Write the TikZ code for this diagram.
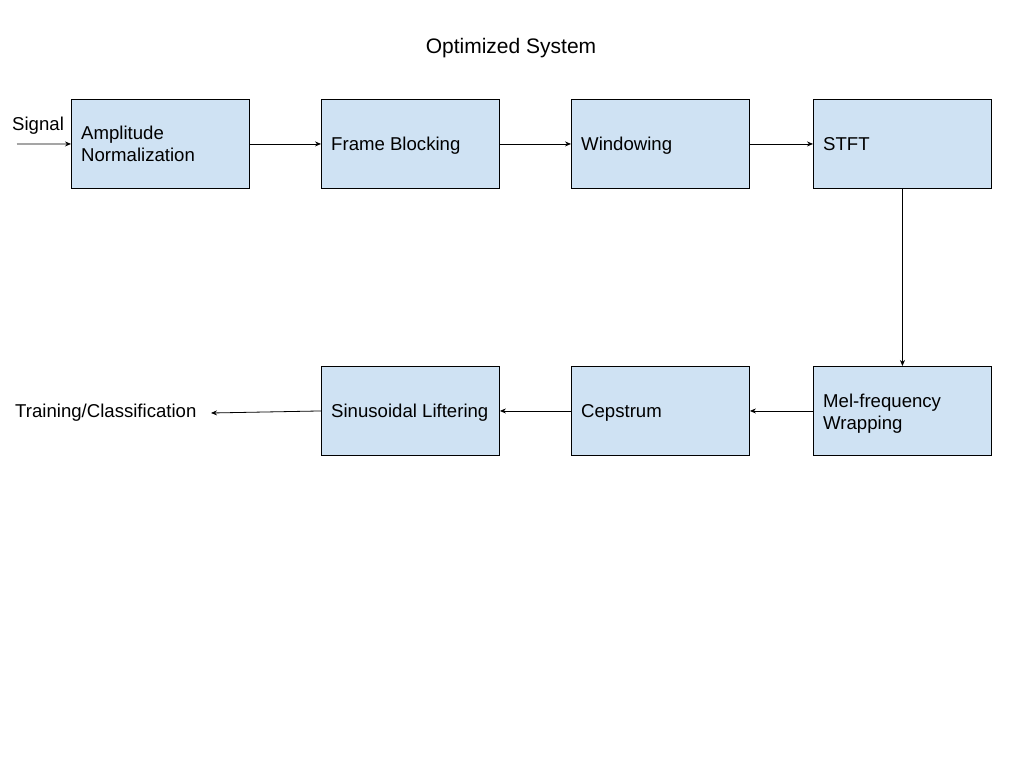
\documentclass[tikz,border=0pt]{standalone}
\usepackage{fontspec}
\setmainfont{Liberation Sans}
\usetikzlibrary{arrows.meta}
\definecolor{boxfill}{HTML}{CFE2F3}
\tikzset{
  block/.style={draw=black, fill=boxfill, line width=0.9pt, minimum width=178pt, minimum height=89pt,
    anchor=north west, inner sep=0pt},
  lbl/.style={anchor=base west, align=left, font=\fontsize{18.6}{22}\selectfont, inner sep=0pt},
  lbltwo/.style={anchor=west, align=left, font=\fontsize{18.6}{22}\selectfont, inner sep=0pt},
  conn/.style={line width=0.8pt, -{Stealth[length=6pt,width=5pt]}},
}
\begin{document}
\begin{tikzpicture}[x=1pt,y=-1pt]
\useasboundingbox (0,0) rectangle (1024,768);
\fill[white] (0,0) rectangle (1024,768);
\node[font=\fontsize{21}{25}\selectfont] (title) at (511,48) {Optimized System};
\node[block] (amp) at (71,99) {};
\node[block] (fb) at (321,99) {};
\node[block] (win) at (571,99) {};
\node[block] (stft) at (813,99) {};
\node[block] (lift) at (321,366) {};
\node[block] (cep) at (571,366) {};
\node[block] (mel) at (813,366) {};
\node[lbltwo] (tamp) at ([xshift=10pt]amp.west) {Amplitude\\Normalization};
\node[lbl] (tfb) at ([xshift=10pt,yshift=-6.6pt]fb.west) {Frame Blocking};
\node[lbl] (twin) at ([xshift=10pt,yshift=-6.6pt]win.west) {Windowing};
\node[lbl] (tstft) at ([xshift=10pt,yshift=-6.6pt]stft.west) {STFT};
\node[lbl] (tlift) at ([xshift=10pt,yshift=-6.6pt]lift.west) {Sinusoidal Liftering};
\node[lbl] (tcep) at ([xshift=10pt,yshift=-6.6pt]cep.west) {Cepstrum};
\node[lbltwo] (tmel) at ([xshift=10pt,yshift=-2.5pt]mel.west) {Mel-frequency\\Wrapping};
\node[lbl] (sig) at (12,130.5) {Signal};
\node[lbl] (train) at (15,417.5) {Training/Classification};
\coordinate (sin) at (17,144);
\coordinate (tout) at (211,413);
\draw[conn] (sin) -- (amp.west);
\draw[conn] (amp.east) -- (fb.west);
\draw[conn] (fb.east) -- (win.west);
\draw[conn] (win.east) -- (stft.west);
\draw[conn] (stft.south) -- (mel.north);
\draw[conn] (mel.west) -- (cep.east);
\draw[conn] (cep.west) -- (lift.east);
\draw[conn] (lift.west) -- (tout);
\end{tikzpicture}
\end{document}
